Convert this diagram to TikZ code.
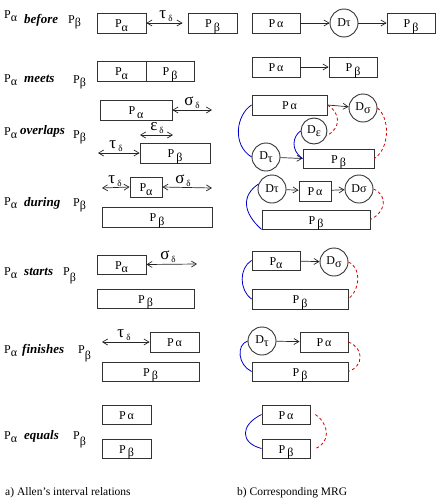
\documentclass[tikz,border=0pt]{standalone}
\usepackage{fontspec}
\setmainfont{Liberation Serif}
\usetikzlibrary{arrows.meta}
\newcommand{\lowr}[2][-0.6ex]{\raisebox{#1}{#2}}
\newcommand{\gsym}[2]{{\fontsize{17}{17}\selectfont #1}\,\raisebox{-0.6ex}{\fontsize{9}{9}\selectfont #2}}
\begin{document}
\begin{tikzpicture}[x=1pt,y=-1pt,
 font=\fontsize{12}{14}\selectfont,
 box/.style={draw=black!80, line width=0.9pt, inner sep=0pt, minimum height=20pt, text height=9.5pt, text depth=0pt},
 dnode/.style={draw=black!80, line width=0.9pt, circle, inner sep=0pt, minimum size=28pt},
 lbl/.style={anchor=base west, inner sep=0pt},
 rel/.style={anchor=base west, inner sep=0pt, font=\fontsize{13}{15}\selectfont\bfseries\itshape},
 glab/.style={inner sep=0pt},
 captext/.style={anchor=base west, inner sep=0pt, font=\fontsize{11.5}{13}\selectfont},
 arr/.style={-{Straight Barb[length=5pt,width=6pt]}, line width=0.7pt, draw=black!85},
 darr/.style={{Straight Barb[length=5pt,width=6pt]}-{Straight Barb[length=5pt,width=6pt]}, line width=0.7pt, draw=black!85},
 blu/.style={draw=blue!80!black, line width=0.8pt},
 rdash/.style={draw=red!85!black, line width=0.8pt, dash pattern=on 3pt off 2.5pt}]
\useasboundingbox (0,0) rectangle (444,498);

% ---------- row labels ----------
\node[lbl] (L1a) at (4,18) {P\lowr{α}};
\node[rel] (L1b) at (24,23) {before};
\node[lbl] (L1c) at (68,23) {P\lowr{β}};
\node[lbl] (L2a) at (4,82) {P\lowr{α}};
\node[rel] (L2b) at (24,82) {meets};
\node[lbl] (L2c) at (73,83) {P\lowr{β}};
\node[lbl] (L3a) at (4,135) {P\lowr{α}};
\node[rel] (L3b) at (20,134) {overlaps};
\node[lbl] (L3c) at (73,138) {P\lowr{β}};
\node[lbl] (L4a) at (4,205) {P\lowr{α}};
\node[rel] (L4b) at (24,206) {during};
\node[lbl] (L4c) at (73,206) {P\lowr{β}};
\node[lbl] (L5a) at (4,275) {P\lowr{α}};
\node[rel] (L5b) at (24,275) {starts};
\node[lbl] (L5c) at (63,275) {P\lowr[-1.1ex]{β}};
\node[lbl] (L6a) at (4,353) {P\lowr{α}};
\node[rel] (L6b) at (22,353) {finishes};
\node[lbl] (L6c) at (78,353) {P\lowr[-1.2ex]{β}};
\node[lbl] (L7a) at (4,439) {P\lowr{α}};
\node[rel] (L7b) at (24,439) {equals};
\node[lbl] (L7c) at (73,439) {P\lowr[-1.1ex]{β}};

% ---------- a) Allen's relations ----------
% before
\node[box,minimum width=49pt] (A1) at (121.5,23) {P\lowr{α}};
\node[box,minimum width=49pt] (B1) at (212.5,23) {P\,\lowr{β}};
\draw[darr] (A1.east) -- ([xshift=-5pt]B1.west);
\node[glab] (t1) at (166,16) {\gsym{τ}{δ}};
% meets
\node[box,minimum width=49pt] (A2) at (121.5,71) {P\lowr{α}};
\node[box,minimum width=48pt] (B2) at (170,71) {P\,\lowr{β}};
% overlaps
\node[box,minimum width=72pt] (A3) at (136,110) {P\,\lowr{α}};
\coordinate (s3) at (212,110);
\draw[darr] (A3.east) -- (s3);
\node[glab] (sl3) at (192,103) {\gsym{σ}{δ}};
\coordinate (e3a) at (140,135);
\coordinate (e3b) at (173,135);
\draw[darr] (e3a) -- (e3b);
\node[glab] (el3) at (157,128) {\gsym{ε}{δ}};
\node[box,minimum width=70pt] (B3) at (175,153) {P\,\lowr{β}};
\coordinate (t3) at (98,153);
\draw[darr] (t3) -- (B3.west);
\node[glab] (tl3) at (116,146) {\gsym{τ}{δ}};
% during
\node[box,minimum width=32pt] (A4) at (146,187) {P\lowr{α}};
\coordinate (t4) at (102,188);
\draw[darr] (t4) -- (A4.west);
\node[glab] (tl4) at (115,181) {\gsym{τ}{δ}};
\coordinate (s4) at (212,188);
\draw[darr] (A4.east) -- (s4);
\node[glab] (sl4) at (183,181) {\gsym{σ}{δ}};
\node[box,minimum width=110pt] (B4) at (157,217) {P\,\lowr{β}};
% starts
\node[box,minimum width=49pt,minimum height=19pt] (A5) at (121.5,264.5) {P\lowr{α}};
\coordinate (s5) at (197,264);
\draw[darr] (A5.east) -- (s5);
\node[glab] (sl5) at (168,257) {\gsym{σ}{δ}};
\node[box,minimum width=97pt,minimum height=19pt] (B5) at (145.5,298.5) {P\,\lowr{β}};
% finishes
\node[box,minimum width=49pt] (A6) at (174.5,342) {P\,α};
\coordinate (t6) at (102,342);
\draw[darr] (t6) -- (A6.west);
\node[glab] (tl6) at (124,335) {\gsym{τ}{δ}};
\node[box,minimum width=97pt,minimum height=19pt] (B6) at (150.5,371.5) {P\,\lowr{β}};
% equals
\node[box,minimum width=49pt,minimum height=19pt] (A7) at (126.5,414.5) {P\,α};
\node[box,minimum width=49pt,minimum height=19pt] (B7) at (126.5,448.5) {P\,\lowr{β}};

% ---------- b) MRG ----------
% before
\node[box,minimum width=48pt] (M1a) at (276,23) {P\,α};
\node[dnode] (M1d) at (344,23) {Dτ};
\node[box,minimum width=48pt] (M1b) at (411,23) {P\,\lowr{β}};
\draw[arr] (M1a) -- (M1d);
\draw[arr] (M1d) -- (M1b);
% meets
\node[box,minimum width=48pt] (M2a) at (276,67) {P\,α};
\node[box,minimum width=48pt] (M2b) at (353,67) {P\,\lowr{β}};
\draw[arr] (M2a) -- (M2b);
% overlaps
\node[box,minimum width=75pt] (M3a) at (289.5,105) {P\,α};
\node[dnode] (M3s) at (363,108) {D\lowr{σ}};
\node[dnode,minimum size=26pt] (M3e) at (314,131) {D\lowr{ε}};
\node[dnode] (M3t) at (266,157) {D\lowr{τ}};
\node[box,minimum width=71pt,minimum height=19pt] (M3b) at (338.5,158.5) {P\,\lowr{β}};
\draw[arr] (M3a.east) -- (M3s);
\draw[arr] (M3t) -- (M3b.west);
\draw[blu] (M3a.west) .. controls (236,115) and (232,145) .. (M3t.west);
\draw[blu] (M3e.west) .. controls (293,136) and (290,150) .. (M3b.west);
\draw[rdash] (M3a.east) .. controls (340,112) and (342,128) .. (M3e.-20);
\draw[rdash] (M3s.east) .. controls (390,118) and (390,148) .. (M3b.east);
% during
\node[dnode] (M4t) at (272,189) {Dτ};
\node[box,minimum width=32pt] (M4a) at (315,191) {P\,α};
\node[dnode] (M4s) at (359,189) {Dσ};
\node[box,minimum width=108pt,minimum height=19pt] (M4b) at (316,219.5) {P\,\lowr{β}};
\draw[arr] (M4t) -- (M4a);
\draw[arr] (M4a) -- (M4s);
\draw[blu] (M4t.160) .. controls (242,195) and (242,212) .. (M4b.south west);
\draw[rdash] (M4s.east) .. controls (388,195) and (386,212) .. (M4b.east);
% starts
\node[box,minimum width=48pt,minimum height=19pt] (M5a) at (276,260.5) {P\lowr{α}};
\node[dnode] (M5s) at (334,262) {D\lowr{σ}};
\node[box,minimum width=96pt] (M5b) at (300,299) {P\,\lowr{β}};
\draw[arr] (M5a) -- (M5s);
\draw[blu] (M5a.west) .. controls (239,268) and (239,290) .. (M5b.west);
\draw[rdash] (M5s.east) .. controls (362,268) and (360,290) .. (M5b.east);
% finishes
\node[dnode] (M6t) at (262,341) {D\lowr{τ}};
\node[box,minimum width=48pt] (M6a) at (324,342) {P\,α};
\node[box,minimum width=96pt,minimum height=19pt] (M6b) at (300,371.5) {P\,\lowr{β}};
\draw[arr] (M6t) -- (M6a);
\draw[blu] (M6t.west) .. controls (236,345) and (238,365) .. (M6b.west);
\draw[rdash] (M6a.east) .. controls (364,348) and (364,366) .. (M6b.east);
% equals
\node[box,minimum width=48pt,minimum height=19pt] (M7a) at (286,414.5) {P\,α};
\node[box,minimum width=48pt,minimum height=19pt] (M7b) at (286,448.5) {P\,\lowr{β}};
\draw[blu] (M7a.west) .. controls (240,425) and (240,443) .. (M7b.west);
\draw[rdash] ([xshift=5pt]M7a.east) .. controls (330,425) and (330,443) .. ([xshift=5pt]M7b.east);

% captions
\node[captext] (capa) at (5,495) {a) Allen's interval relations};
\node[captext] (capb) at (237,495) {b) Corresponding MRG};
\end{tikzpicture}
\end{document}
